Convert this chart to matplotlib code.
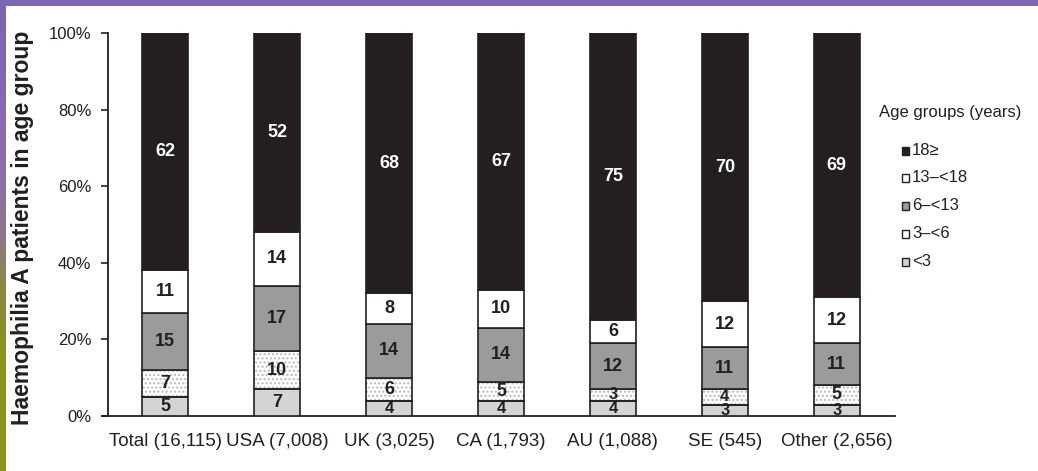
import numpy as np
import matplotlib
matplotlib.use("Agg")
import matplotlib.pyplot as plt
from matplotlib.patches import Rectangle
from matplotlib.colors import to_rgb

plt.rcParams["font.family"] = ["Liberation Sans", "DejaVu Sans"]

# ---- data -------------------------------------------------------------
countries = ["Total (16,115)", "USA (7,008)", "UK (3,025)", "CA (1,793)",
             "AU (1,088)", "SE (545)", "Other (2,656)"]
age_groups = ["<3", "3\u2013<6", "6\u2013<13", "13\u2013<18", "18\u2265"]
pct_lt3 = [5, 7, 4, 4, 4, 3, 3]
pct_3_6 = [7, 10, 6, 5, 3, 4, 5]
pct_6_13 = [15, 17, 14, 14, 12, 11, 11]
pct_13_18 = [11, 14, 8, 10, 6, 12, 12]
pct_18up = [62, 52, 68, 67, 75, 70, 69]
series = [pct_lt3, pct_3_6, pct_6_13, pct_13_18, pct_18up]
yticks = [0, 20, 40, 60, 80, 100]

# ---- styles -----------------------------------------------------------
DARK = "#231f20"
fills = ["#d4d4d4", "white", "#9b9b9b", "white", DARK]
hatches = [None, "....", None, None, None]
text_colors = [DARK, DARK, DARK, DARK, "white"]

W, H = 1038, 471
fig = plt.figure(figsize=(W / 100, H / 100), dpi=100)

# slide-style frame: purple strip on top, purple-to-olive strip on the left
bg = np.ones((H, W, 3))
top_col = np.array(to_rgb("#7a68b2"))
bg[:6, :, :] = top_col
stops_y = np.array([0, 150, 230, 290, 360, H - 1])
stops_c = np.array([to_rgb(c) for c in
                    ["#7c63b4", "#8a6cb0", "#8f7590", "#8c8a3c", "#8b9318", "#8a9412"]])
rows = np.arange(H)
left = np.stack([np.interp(rows, stops_y, stops_c[:, k]) for k in range(3)], axis=1)
bg[:, :6, :] = left[:, None, :]
bg[:6, :6, :] = top_col
bax = fig.add_axes([0, 0, 1, 1], zorder=-5)
bax.imshow(bg, aspect="auto", interpolation="bilinear")
bax.axis("off")

# ---- main axes ---------------------------------------------------------
ax = fig.add_axes([108 / W, 1 - 416 / H, (895 - 108) / W, (416 - 33) / H])
ax.patch.set_alpha(0)
x = np.arange(len(countries))
bw = 0.41
bottom = np.zeros(len(countries))
for vals, fc, hatch, tc in zip(series, fills, hatches, text_colors):
    vals = np.array(vals, dtype=float)
    if hatch:
        ax.bar(x, vals, bw, bottom=bottom, color=fc, hatch=hatch,
               edgecolor="#b8b8b8", linewidth=0, zorder=2)
        ax.bar(x, vals, bw, bottom=bottom, fill=False,
               edgecolor=DARK, linewidth=1.2, zorder=3)
    else:
        ax.bar(x, vals, bw, bottom=bottom, color=fc,
               edgecolor=DARK, linewidth=1.2, zorder=3)
    for xi, b, v in zip(x, bottom, vals):
        fs = 13 if v >= 5 else 12
        ax.text(xi, b + v / 2, f"{int(v)}", ha="center", va="center",
                fontsize=fs, fontweight="bold", color=tc, zorder=4)
    bottom += vals

ax.set_xlim(-0.51, len(countries) - 0.48)
ax.set_ylim(0, 100)
ax.set_yticks(yticks)
ax.set_yticklabels([f"{t}%" for t in yticks], fontsize=12, color=DARK)
ax.set_xticks(x)
ax.set_xticklabels(countries, fontsize=13.5, color=DARK)
ax.tick_params(axis="x", length=0, pad=12)
ax.tick_params(axis="y", length=5, width=1.2, direction="out", pad=7, color=DARK)
for s in ["top", "right"]:
    ax.spines[s].set_visible(False)
for s in ["left", "bottom"]:
    ax.spines[s].set_linewidth(1.3)
    ax.spines[s].set_color(DARK)
ax.spines["bottom"].set_bounds(-0.51 - 6 / 112, len(countries) - 0.48)

fig.text(23 / W, 1 - 228 / H, "Haemophilia A patients in age group",
         rotation=90, ha="center", va="center", fontsize=16.5,
         fontweight="bold", color=DARK)

# ---- legend -------------------------------------------------------------
fig.text(879 / W, 1 - 113 / H, "Age groups (years)", ha="left", va="center",
         fontsize=12, color=DARK)
leg_y = [151, 178, 206, 234, 262]
for lab, fc, yy in zip(reversed(age_groups), reversed(fills), leg_y):
    fig.patches.append(Rectangle((901.5 / W, 1 - (yy + 4) / H), 7 / W, 8 / H,
                                 transform=fig.transFigure, facecolor=fc,
                                 edgecolor=DARK, linewidth=1.0))
    fig.text(912 / W, 1 - yy / H, lab, ha="left", va="center",
             fontsize=12, color=DARK)

fig.savefig("out.png", dpi=100)
